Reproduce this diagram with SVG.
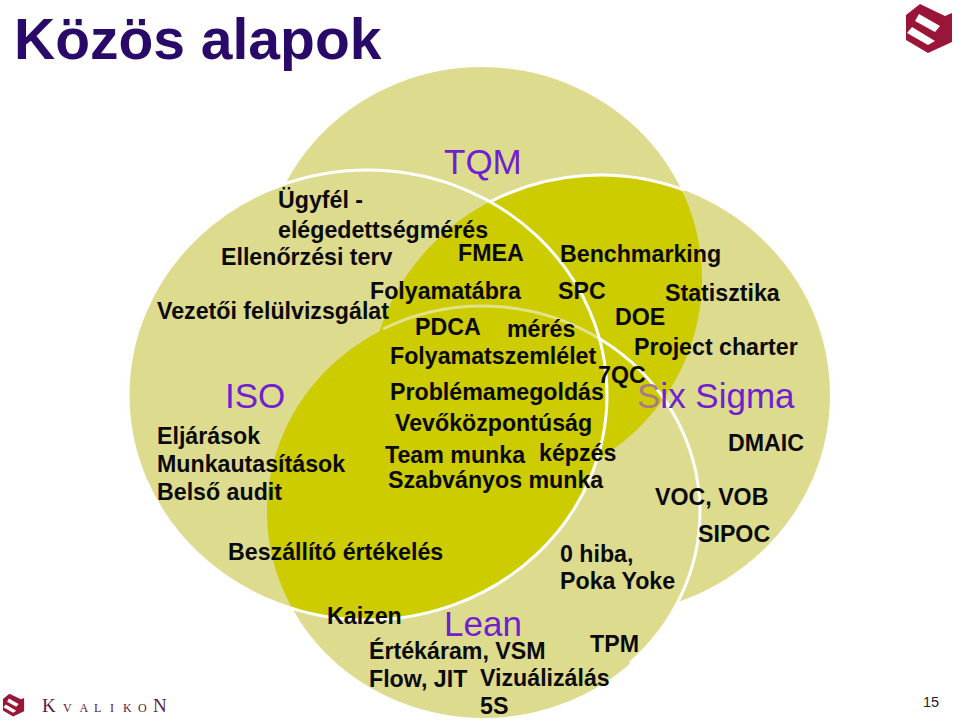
<svg xmlns="http://www.w3.org/2000/svg" width="960" height="725" viewBox="0 0 960 725">
<style>
.t{font-family:"Liberation Sans",Arial,sans-serif;font-weight:bold;font-size:23.2px;fill:#0a0a0a}
.h{font-family:"Liberation Sans",Arial,sans-serif;font-size:35px;fill:#7020d0}
.l{fill:#dddc8e}
.d{fill:#cccc00}
.w{fill:none;stroke:#fff;stroke-width:3}
</style>
<defs>
<clipPath id="cIso"><ellipse cx="367.5" cy="395" rx="239.5" ry="225"/></clipPath>
<clipPath id="cSix"><ellipse cx="600" cy="395" rx="230" ry="220"/></clipPath>
<g id="mark">
<path d="M920 4L945 16L952 13V42L928 53L906 40V15Z" fill="#9a1638"/>
<path d="M919 14L940 26L935 32L915 21ZM912 27L935 41L928 45L907 33Z" fill="#fff"/>
</g>
</defs>
<rect width="960" height="725" fill="#fff"/>
<g id="circles">
<ellipse id="tqm" class="l" cx="482" cy="279" rx="220" ry="212"/>
<ellipse id="six" class="l" cx="600" cy="395" rx="230" ry="220"/>
<ellipse id="lean" class="l" cx="483.5" cy="512" rx="216.5" ry="206"/>
<ellipse id="iso" class="l" cx="367.5" cy="395" rx="239.5" ry="225"/>
<g clip-path="url(#cIso)"><ellipse class="d" cx="600" cy="395" rx="230" ry="220"/><ellipse class="d" cx="483.5" cy="512" rx="216.5" ry="206"/></g>
<g clip-path="url(#cSix)"><ellipse class="d" cx="482" cy="279" rx="220" ry="212"/></g>
</g>
<g id="connectors">
<path class="w" d="M490 202A230 220 0 0 1 684 190"/>
<path d="M383 329A216.5 206 0 0 1 600 339" fill="none" stroke="#e3e288" stroke-width="3"/>
<path class="w" d="M600 339A216.5 206 0 0 1 700 512A216.5 206 0 0 1 630 663"/>
<ellipse class="w" cx="367.5" cy="395" rx="239.5" ry="225"/>
</g>
<g id="title"><text x="14" y="59" font-family="Liberation Sans" font-weight="bold" font-size="57" fill="#2a0a68">Közös alapok</text></g>
<g id="logo"><use href="#mark"/></g>
<g id="labels">
<text class="h" x="444" y="174">TQM</text>
<text class="h" x="225" y="408">ISO</text>
<text class="h" x="637" y="408"><tspan fill="#a87a88">S</tspan>ix Sigma</text>
<text class="h" x="444" y="636">Lean</text>
<text class="t" x="278" y="208">Ügyfél -</text>
<text class="t" x="278" y="238">elégedettségmérés</text>
<text class="t" x="221" y="265">Ellenőrzési terv</text>
<text class="t" x="458" y="261">FMEA</text>
<text class="t" x="560" y="262">Benchmarking</text>
<text class="t" x="370" y="299">Folyamatábra</text>
<text class="t" x="558" y="299">SPC</text>
<text class="t" x="665" y="301">Statisztika</text>
<text class="t" x="157" y="319">Vezetői felülvizsgálat</text>
<text class="t" x="415" y="335">PDCA</text>
<text class="t" x="507" y="337">mérés</text>
<text class="t" x="615" y="325">DOE</text>
<text class="t" x="634" y="355">Project charter</text>
<text class="t" x="390" y="364">Folyamatszemlélet</text>
<text class="t" x="598" y="383">7QC</text>
<text class="t" x="390" y="400">Problémamegoldás</text>
<text class="t" x="395" y="431">Vevőközpontúság</text>
<text class="t" x="157" y="444">Eljárások</text>
<text class="t" x="157" y="472">Munkautasítások</text>
<text class="t" x="157" y="500">Belső audit</text>
<text class="t" x="385" y="463">Team munka</text>
<text class="t" x="539" y="461">képzés</text>
<text class="t" x="388" y="488">Szabványos munka</text>
<text class="t" x="728" y="451">DMAIC</text>
<text class="t" x="655" y="505">VOC, VOB</text>
<text class="t" x="698" y="542">SIPOC</text>
<text class="t" x="228" y="560">Beszállító értékelés</text>
<text class="t" x="560" y="562">0 hiba,</text>
<text class="t" x="560" y="589">Poka Yoke</text>
<text class="t" x="327" y="624">Kaizen</text>
<text class="t" x="590" y="652">TPM</text>
<text class="t" x="369" y="659">Értékáram, VSM</text>
<text class="t" x="369" y="687">Flow, JIT</text>
<text class="t" x="480" y="686">Vizuálizálás</text>
<text class="t" x="480" y="714">5S</text>
</g>
<g id="footer">
<use href="#mark" transform="translate(-413.8 692) scale(.46)"/>
<text y="712" font-family="Liberation Serif" font-size="12" fill="#5a2040"><tspan x="42" font-size="19">K</tspan><tspan x="63 79.5 94 110 123 138">VALIKO</tspan><tspan x="153" font-size="19">N</tspan></text>
<text x="923" y="707" font-family="Liberation Sans" font-size="14.5" fill="#222">15</text>
</g>
</svg>
